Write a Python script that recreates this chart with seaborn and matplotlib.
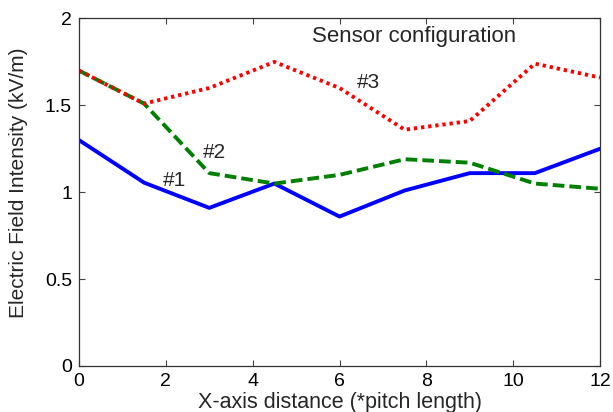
import matplotlib
matplotlib.use("Agg")
import matplotlib.pyplot as plt
import seaborn as sns
import pandas as pd

x_pitch = [0, 1.5, 3, 4.5, 6, 7.5, 9, 10.5, 12]
sensor1 = [1.30, 1.055, 0.91, 1.05, 0.86, 1.01, 1.11, 1.11, 1.25]
sensor2 = [1.70, 1.51, 1.11, 1.05, 1.10, 1.19, 1.17, 1.05, 1.02]
sensor3 = [1.70, 1.51, 1.60, 1.75, 1.60, 1.36, 1.41, 1.74, 1.66]
labels = ["#1", "#2", "#3"]
x_ticks = [0, 2, 4, 6, 8, 10, 12]
y_ticks = [0, 0.5, 1, 1.5, 2]
y_tick_labels = ["0", "0.5", "1", "1.5", "2"]

sns.set_style("white")
plt.rcParams['font.family'] = ['Liberation Sans', 'DejaVu Sans']

fig = plt.figure(figsize=(6.13, 4.12), dpi=100)
ax = fig.add_axes([0.1289, 0.1117, 0.8499, 0.8434])

styles = [("#0000ff", "-"), ("#008000", (0, (3.0, 1.3))), ("#ff0000", (0, (0.85, 1.0)))]
for vals, (c, ls) in zip([sensor1, sensor2, sensor3], styles):
    df = pd.DataFrame({"x": x_pitch, "y": vals})
    sns.lineplot(data=df, x="x", y="y", ax=ax, color=c, linewidth=2.8)
    ax.lines[-1].set_linestyle(ls)

ax.set_xlim(0, 12)
ax.set_ylim(0, 2)
ax.set_xticks(x_ticks)
ax.set_yticks(y_ticks)
ax.set_yticklabels(y_tick_labels)
ax.tick_params(axis="both", labelsize=14, direction="in", length=4, width=0.8,
               top=True, right=True, bottom=True, left=True, pad=5, colors="#444444",
               labelcolor="black")
for s in ax.spines.values():
    s.set_color("#333333")
    s.set_linewidth(0.9)
ax.set_xlabel("X-axis distance (*pitch length)", fontsize=15.5)
ax.xaxis.set_label_coords(0.5, -0.075)
ax.set_ylabel("Electric Field Intensity (kV/m)", fontsize=15)
ax.yaxis.set_label_coords(-0.097, 0.528)

ax.text(2.21, 1.065, labels[0], fontsize=15, ha="center", va="center")
ax.text(3.12, 1.23, labels[1], fontsize=15, ha="center", va="center")
ax.text(6.67, 1.63, labels[2], fontsize=15, ha="center", va="center")
ax.text(7.72, 1.895, "Sensor configuration", fontsize=16, ha="center", va="center")

fig.savefig("out.png", dpi=100)
